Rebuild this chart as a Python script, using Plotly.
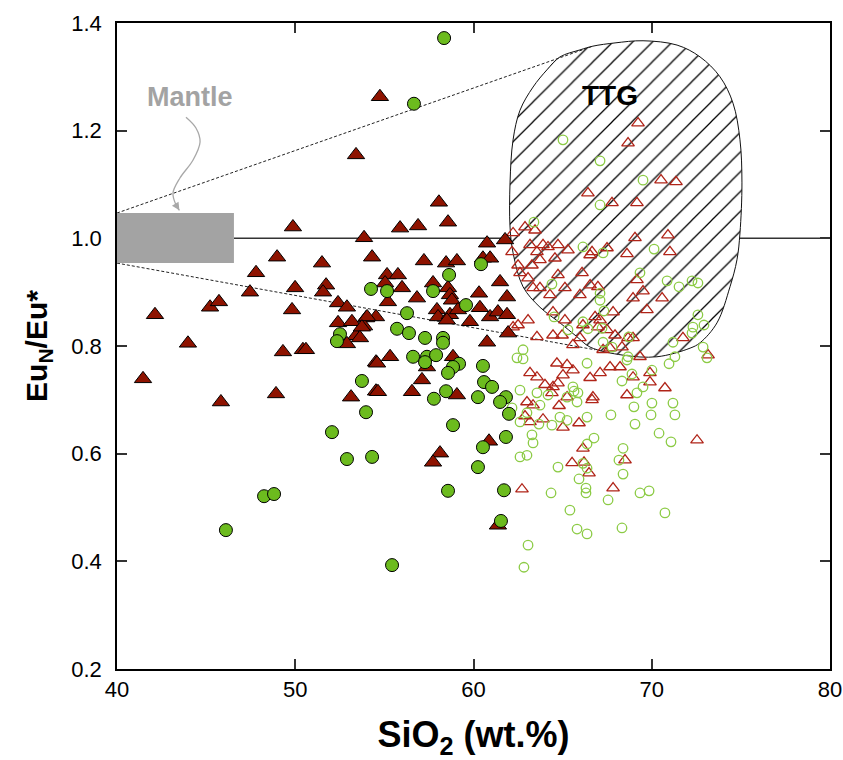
import plotly.graph_objects as go

# ---------------- data (SiO2 wt.%, EuN/Eu*) ----------------
red_fill_x = [41.46, 42.13, 43.98, 45.22, 45.72, 45.83, 47.46, 47.80, 48.98, 48.92, 49.31, 49.87, 49.82, 49.99,
              50.43, 50.60, 51.50, 51.73, 51.56, 52.40, 52.90, 52.40, 53.18, 53.97, 53.86, 54.53, 53.41, 52.90,
              53.13, 54.53, 54.53, 53.86, 54.31, 54.75, 53.41, 58.06, 55.88, 56.89, 58.57, 60.76, 61.77, 57.22,
              58.46, 59.07, 60.53, 60.93, 55.15, 55.76, 55.04, 55.99, 56.83, 57.73, 58.57, 58.68, 58.79, 55.20,
              54.03, 53.74, 57.95, 58.01, 58.68, 59.13, 60.31, 61.49, 61.88, 60.36, 59.80, 60.93, 61.37, 61.88,
              60.76, 61.94, 58.51, 53.63, 54.59, 55.32, 58.85, 57.39, 57.11, 56.55, 54.64, 59.07, 60.87, 58.12,
              57.73, 61.37]
red_fill_y = [0.739, 0.858, 0.805, 0.872, 0.882, 0.696, 0.900, 0.936, 0.965, 0.711, 0.789, 1.021, 0.867, 0.908,
              0.793, 0.793, 0.954, 0.913, 0.900, 0.880, 0.872, 0.843, 0.845, 0.852, 0.837, 0.854, 0.819, 0.804,
              0.705, 0.770, 0.716, 1.001, 0.965, 1.263, 1.155, 1.067, 1.019, 1.023, 1.030, 0.991, 0.997, 0.958,
              0.954, 0.958, 0.963, 0.963, 0.932, 0.932, 0.917, 0.908, 0.889, 0.917, 0.908, 0.895, 0.885, 0.882,
              0.854, 0.835, 0.867, 0.854, 0.858, 0.867, 0.898, 0.919, 0.891, 0.871, 0.845, 0.854, 0.863, 0.858,
              0.807, 0.824, 0.848, 0.815, 0.768, 0.780, 0.780, 0.761, 0.737, 0.715, 0.715, 0.709, 0.623, 0.601,
              0.584, 0.467]

green_fill_x = [58.35, 56.66, 54.25, 52.51, 52.34, 53.74, 53.97, 52.06, 52.90, 54.31, 48.25, 48.81, 46.11, 55.43,
                60.42, 58.63, 55.15, 57.73, 59.58, 56.27, 55.71, 56.38, 57.28, 58.29, 58.29, 56.61, 57.39, 57.90,
                57.28, 59.19, 58.85, 58.57, 60.53, 60.59, 61.04, 58.46, 57.78, 60.25, 61.82, 61.49, 61.99, 58.85,
                61.82, 60.53, 60.25, 58.57, 61.71, 61.54]
green_fill_y = [1.372, 1.250, 0.906, 0.822, 0.809, 0.735, 0.677, 0.640, 0.590, 0.594, 0.521, 0.525, 0.458, 0.393,
                0.952, 0.932, 0.902, 0.902, 0.876, 0.861, 0.832, 0.824, 0.815, 0.815, 0.806, 0.780, 0.780, 0.783,
                0.770, 0.767, 0.761, 0.750, 0.763, 0.733, 0.724, 0.716, 0.702, 0.705, 0.705, 0.696, 0.674, 0.653,
                0.631, 0.612, 0.575, 0.531, 0.532, 0.475]

red_open_x = [69.23, 68.67, 66.42, 67.77, 69.17, 70.52, 71.36, 62.22, 62.89, 63.45, 63.17, 63.90, 64.18, 64.74,
              65.30, 62.16, 63.56, 63.73, 64.57, 66.65, 67.49, 68.61, 69.06, 70.91, 71.02, 66.54, 62.50, 63.28,
              62.61, 63.06, 64.74, 66.09, 65.13, 63.34, 63.73, 64.29, 65.97, 66.54, 66.98, 68.95, 69.17, 69.51,
              70.58, 69.73, 62.50, 63.06, 62.22, 63.56, 64.46, 65.13, 64.46, 64.97, 66.14, 65.97, 65.58, 66.82,
              67.10, 66.98, 67.49, 67.94, 67.83, 67.66, 68.33, 68.67, 67.27, 68.95, 71.75, 69.34, 73.16, 64.68,
              65.25, 65.58, 63.17, 63.56, 65.02, 66.54, 67.10, 67.66, 68.22, 68.95, 69.90, 69.90, 70.74, 64.01,
              64.46, 64.74, 64.40, 65.25, 66.70, 68.61, 63.00, 63.34, 64.80, 66.65, 62.89, 63.17, 63.90, 65.02,
              65.92, 66.14, 65.53, 66.20, 68.50, 66.48, 67.83, 62.72, 72.54]
red_open_y = [1.214, 1.177, 1.084, 1.066, 1.066, 1.108, 1.105, 1.010, 1.021, 1.015, 0.988, 0.988, 0.984, 0.988,
              0.978, 0.975, 0.975, 0.960, 0.963, 0.975, 0.982, 0.971, 1.001, 1.006, 0.975, 0.969, 0.950, 0.950,
              0.936, 0.926, 0.932, 0.936, 0.908, 0.908, 0.908, 0.895, 0.895, 0.913, 0.910, 0.889, 0.923, 0.902,
              0.889, 0.867, 0.839, 0.848, 0.835, 0.817, 0.863, 0.848, 0.820, 0.820, 0.839, 0.815, 0.802, 0.854,
              0.848, 0.835, 0.830, 0.820, 0.863, 0.796, 0.798, 0.815, 0.793, 0.815, 0.815, 0.780, 0.783, 0.768,
              0.765, 0.755, 0.750, 0.742, 0.746, 0.741, 0.750, 0.761, 0.761, 0.742, 0.750, 0.733, 0.722, 0.728,
              0.724, 0.731, 0.713, 0.705, 0.705, 0.709, 0.696, 0.690, 0.689, 0.700, 0.670, 0.659, 0.664, 0.649,
              0.657, 0.610, 0.583, 0.584, 0.588, 0.564, 0.536, 0.534, 0.625]

green_open_x = [65.02, 67.10, 69.51, 67.10, 63.39, 66.14, 67.27, 70.13, 69.34, 70.86, 71.53, 72.26, 72.59, 67.10,
                67.10, 67.32, 72.59, 72.31, 72.93, 72.26, 71.19, 68.72, 67.27, 67.77, 72.88, 71.30, 70.97, 73.10,
                68.61, 70.01, 68.89, 68.33, 69.51, 69.17, 69.00, 70.01, 71.19, 67.71, 69.96, 71.30, 69.06, 70.41,
                71.08, 66.76, 68.39, 68.16, 64.40, 64.52, 65.30, 66.42, 67.21, 68.67, 66.14, 62.78, 62.78, 62.44,
                66.37, 65.58, 65.86, 65.81, 65.25, 63.56, 62.61, 63.73, 64.85, 65.25, 66.37, 66.37, 63.28, 63.34,
                63.00, 62.61, 62.16, 63.00, 62.61, 63.67, 64.40, 65.64, 64.18, 64.74, 66.37, 66.14, 68.39, 66.31,
                66.31, 65.92, 64.35, 65.41, 69.34, 69.85, 67.55, 70.74, 65.81, 66.37, 68.33, 63.06, 62.83]
green_open_y = [1.183, 1.144, 1.108, 1.062, 1.030, 0.984, 0.973, 0.980, 0.936, 0.921, 0.910, 0.921, 0.917, 0.898,
                0.885, 0.865, 0.858, 0.835, 0.839, 0.824, 0.807, 0.817, 0.807, 0.798, 0.798, 0.780, 0.767, 0.778,
                0.774, 0.755, 0.748, 0.735, 0.724, 0.713, 0.687, 0.694, 0.694, 0.672, 0.672, 0.672, 0.655, 0.638,
                0.622, 0.629, 0.610, 0.588, 0.915, 0.854, 0.830, 0.832, 0.833, 0.780, 0.845, 0.793, 0.776, 0.778,
                0.768, 0.724, 0.713, 0.696, 0.705, 0.713, 0.718, 0.690, 0.668, 0.662, 0.668, 0.618, 0.635, 0.620,
                0.597, 0.594, 0.685, 0.676, 0.659, 0.655, 0.653, 0.716, 0.709, 0.575, 0.573, 0.582, 0.562, 0.536,
                0.527, 0.553, 0.527, 0.495, 0.527, 0.531, 0.514, 0.490, 0.460, 0.451, 0.462, 0.430, 0.389]

# TTG field outline
ttg_x = [62.05, 62.05, 62.22, 62.61, 63.34, 64.12, 64.85, 65.97, 66.70, 67.94, 69.51, 71.42, 72.71, 73.83,
         74.56, 74.95, 75.06, 74.95, 74.78, 74.39, 73.66, 72.71, 72.15, 70.29, 68.39, 66.54, 65.81, 64.85,
         63.73, 62.78, 62.22, 62.05]
ttg_y = [1.021, 1.103, 1.183, 1.238, 1.281, 1.313, 1.337, 1.350, 1.357, 1.363, 1.367, 1.359, 1.337, 1.300,
         1.251, 1.183, 1.103, 1.010, 0.960, 0.910, 0.843, 0.806, 0.796, 0.780, 0.783, 0.798, 0.817, 0.843,
         0.872, 0.910, 0.973, 1.021]

# Mantle box and trend lines
mantle_x = [40.0, 46.56]
mantle_y = [0.954, 1.047]
upper_trend_x = [40.0, 66.70]
upper_trend_y = [1.047, 1.357]
lower_trend_x = [40.0, 66.82]
lower_trend_y = [0.954, 0.793]
arrow_x = [43.87, 44.43, 44.66, 44.26, 43.53, 43.14, 43.31, 43.50]
arrow_y = [1.225, 1.205, 1.179, 1.145, 1.112, 1.084, 1.062, 1.052]

x_ticks = [40, 50, 60, 70, 80]
y_ticks = [0.2, 0.4, 0.6, 0.8, 1.0, 1.2, 1.4]
y_tick_text = ["0.2", "0.4", "0.6", "0.8", "1.0", "1.2", "1.4"]

FONT = "Liberation Sans, Arial, sans-serif"

fig = go.Figure()

# TTG hatched field
fig.add_trace(go.Scatter(
    x=ttg_x, y=ttg_y, mode="lines", fill="toself",
    line=dict(color="#111111", width=1, shape="spline", smoothing=1.0),
    fillcolor="white",
    fillpattern=dict(shape="/", fgcolor="#000000", fgopacity=1, bgcolor="white", size=14, solidity=0.09),
    hoverinfo="skip", showlegend=False))

# dashed trend lines
for tx, ty in [(upper_trend_x, upper_trend_y), (lower_trend_x, lower_trend_y)]:
    fig.add_trace(go.Scatter(x=tx, y=ty, mode="lines",
                             line=dict(color="#222222", width=1, dash="3px,2px"),
                             hoverinfo="skip", showlegend=False))

# curved arrow
fig.add_trace(go.Scatter(x=arrow_x, y=arrow_y, mode="lines",
                         line=dict(color="#A8A8A8", width=1.3, shape="spline"),
                         hoverinfo="skip", showlegend=False))

# open symbols
fig.add_trace(go.Scatter(x=red_open_x, y=red_open_y, mode="markers",
                         marker=dict(symbol="triangle-up-open", size=11, color="#B02418",
                                     line=dict(width=1.3, color="#B02418")),
                         showlegend=False))
fig.add_trace(go.Scatter(x=green_open_x, y=green_open_y, mode="markers",
                         marker=dict(symbol="circle-open", size=9.5, color="#8CCB45",
                                     line=dict(width=1.3, color="#8CCB45")),
                         showlegend=False))

# filled symbols
fig.add_trace(go.Scatter(x=red_fill_x, y=red_fill_y, mode="markers",
                         marker=dict(symbol="triangle-up", size=15, color="#8E1300",
                                     line=dict(width=1, color="#000000")),
                         showlegend=False))
fig.add_trace(go.Scatter(x=green_fill_x, y=green_fill_y, mode="markers",
                         marker=dict(symbol="circle", size=13, color="#6CBB1E",
                                     line=dict(width=1, color="#000000")),
                         showlegend=False))

# mantle box and reference line
fig.add_shape(type="rect", xref="x", yref="y", x0=mantle_x[0], x1=mantle_x[1],
              y0=mantle_y[0], y1=mantle_y[1], fillcolor="#A3A3A3", line=dict(width=0), layer="above")
fig.add_shape(type="line", xref="x", yref="y", x0=mantle_x[1], x1=80, y0=1.0, y1=1.0,
              line=dict(color="#333333", width=1.5), layer="below")

# arrow head
fig.add_annotation(x=arrow_x[-1], y=arrow_y[-1], ax=arrow_x[-2], ay=arrow_y[-2],
                   xref="x", yref="y", axref="x", ayref="y", text="", showarrow=True,
                   arrowhead=2, arrowsize=1.2, arrowwidth=1.3, arrowcolor="#A8A8A8")

fig.add_annotation(x=44.10, y=1.263, xref="x", yref="y", text="Mantle", showarrow=False,
                   font=dict(family=FONT, size=27, color="#A3A3A3", weight="bold"))
fig.add_annotation(x=67.66, y=1.266, xref="x", yref="y", text="TTG", showarrow=False,
                   font=dict(family=FONT, size=28, color="#000000", weight="bold"))

axis_common = dict(showgrid=False, zeroline=False, showline=True, linecolor="#000000", linewidth=1.5,
                   mirror="ticks", ticks="inside", ticklen=10, tickwidth=1.5, tickcolor="#333333",
                   automargin=False,
                   tickfont=dict(family=FONT, size=22, color="#000000"))

fig.update_layout(
    width=843, height=760,
    margin=dict(l=117, r=13, t=23, b=91),
    paper_bgcolor="white", plot_bgcolor="white",
    xaxis=dict(range=[40, 80], tickvals=x_ticks, **axis_common,
               title=dict(text="SiO<sub>2</sub> (wt.%)", standoff=32,
                          font=dict(family=FONT, size=36, color="#000000", weight="bold"))),
    yaxis=dict(range=[0.2, 1.4], tickvals=y_ticks, ticktext=y_tick_text, **axis_common,
               ticklabelstandoff=9,
               title=dict(text="Eu<sub>N</sub>/Eu*", standoff=15,
                          font=dict(family=FONT, size=30, color="#000000", weight="bold"))),
)

fig.write_html("out.html", config={"displayModeBar": False},
               post_script="document.body.style.margin='0';document.body.style.overflow='hidden';")
